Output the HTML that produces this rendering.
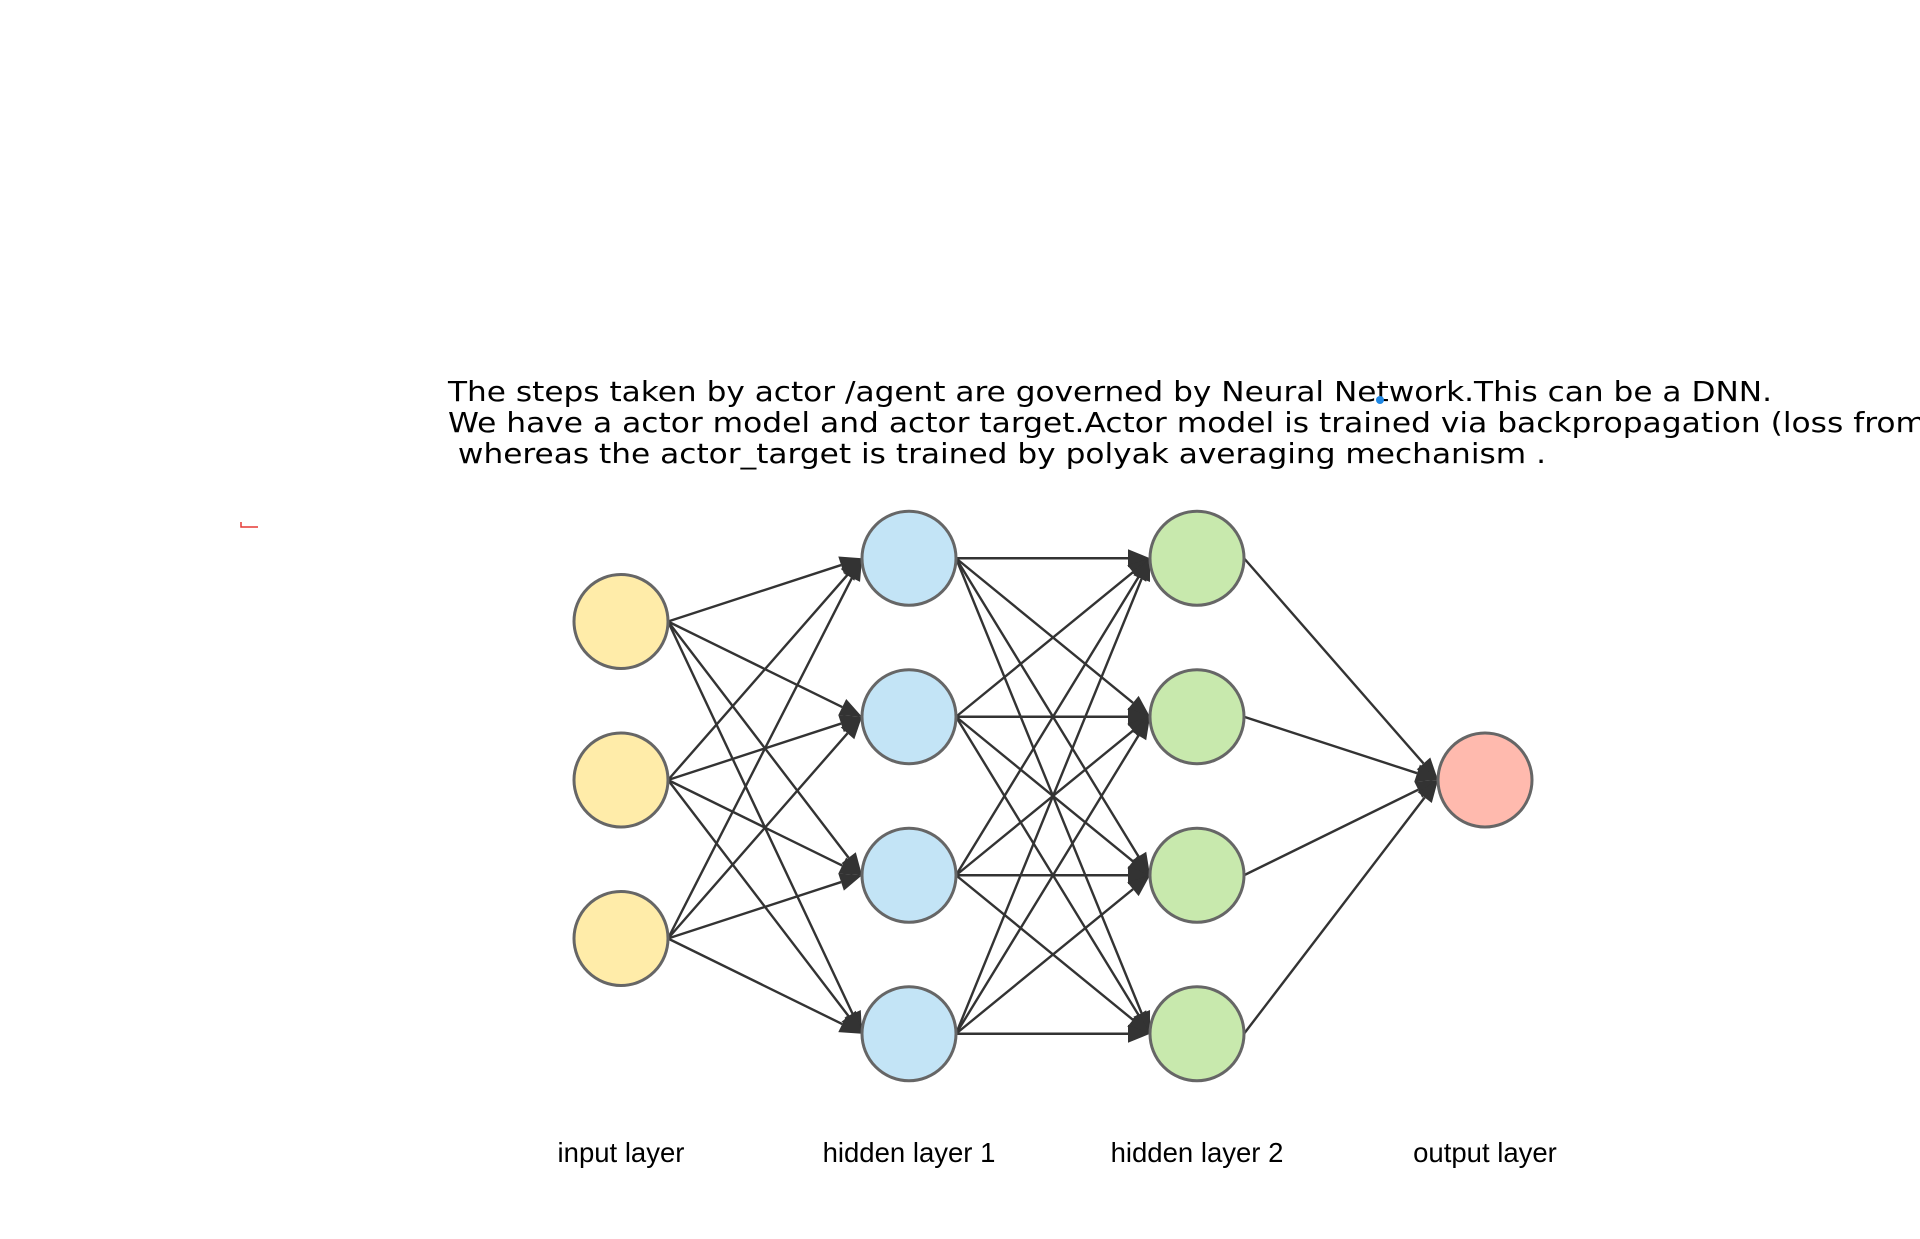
<!DOCTYPE html>
<html><head><meta charset="utf-8"><style>
html,body{margin:0;padding:0;background:#fff;width:1920px;height:1239px;overflow:hidden}
svg{display:block}
</style></head><body>
<svg id="chart" width="1920" height="1239" viewBox="0 0 1920 1239" xmlns="http://www.w3.org/2000/svg">
<g font-family="DejaVu Sans, Liberation Sans, sans-serif" font-size="28" fill="#000">
<text x="448" y="401" textLength="1324" lengthAdjust="spacingAndGlyphs">The steps taken by actor /agent are governed by Neural Network.This can be a DNN.</text>
<text x="448" y="432" textLength="1478" lengthAdjust="spacingAndGlyphs">We have a actor model and actor target.Actor model is trained via backpropagation (loss from</text>
<text x="448" y="463" textLength="1098" lengthAdjust="spacingAndGlyphs" xml:space="preserve"> whereas the actor_target is trained by polyak averaging mechanism .</text>
</g>
<circle cx="1380" cy="400" r="4" fill="#1e88e5"/>
<path d="M241,522 L241,527 L258,527" stroke="#e53935" stroke-width="1.5" fill="none"/>
<g id="edges"></g>
<g id="nodes"></g>
<g id="labels"></g>
</svg>
<script>
const layerNames = ["input layer","hidden layer 1","hidden layer 2","output layer"];
const layerSizes = [3,4,4,1];
const layerColors = ["#ffeca9","#c3e4f6","#c8e9ad","#ffbaae"];
const layerX = [621,909,1197,1485];
const layerCenterY = [780,796,796,780];
const spacing = 158.5;
const R = 47;
const NS = "http://www.w3.org/2000/svg";
const edges = document.getElementById('edges');
const nodes = document.getElementById('nodes');
const labels = document.getElementById('labels');
function nodeY(l,i){return layerCenterY[l] + (i-(layerSizes[l]-1)/2)*spacing;}
for(let l=0;l<layerSizes.length-1;l++){
  for(let i=0;i<layerSizes[l];i++){
    for(let j=0;j<layerSizes[l+1];j++){
      const x1=layerX[l]+R, y1=nodeY(l,i);
      const x2=layerX[l+1]-R, y2=nodeY(l+1,j);
      const dx=x2-x1, dy=y2-y1, len=Math.hypot(dx,dy), ux=dx/len, uy=dy/len;
      const hl=22, hw=9;
      const bx=x2-ux*hl, by=y2-uy*hl;
      const line=document.createElementNS(NS,'line');
      
      
      line.setAttribute('x1',x1);line.setAttribute('y1',y1);
      line.setAttribute('x2',bx);line.setAttribute('y2',by);
      line.setAttribute('stroke','#333');line.setAttribute('stroke-width','2.4');
      edges.appendChild(line);
      const head=document.createElementNS(NS,'polygon');
      
      
      head.setAttribute('points',`${x2},${y2} ${bx-uy*hw},${by+ux*hw} ${bx+uy*hw},${by-ux*hw}`);
      head.setAttribute('fill','#333');
      edges.appendChild(head);
    }
  }
}
for(let l=0;l<layerSizes.length;l++){
  for(let i=0;i<layerSizes[l];i++){
    const c=document.createElementNS(NS,'circle');
    
    
    c.setAttribute('cx',layerX[l]);c.setAttribute('cy',nodeY(l,i));c.setAttribute('r',R);
    c.setAttribute('fill',layerColors[l]);c.setAttribute('stroke','#666');c.setAttribute('stroke-width','3');
    nodes.appendChild(c);
  }
  const t=document.createElementNS(NS,'text');
  
  
  t.setAttribute('x',layerX[l]);t.setAttribute('y',1162);
  t.setAttribute('text-anchor','middle');
  t.setAttribute('font-family','Liberation Sans, sans-serif');t.setAttribute('font-size','27.5');
  t.textContent=layerNames[l];
  labels.appendChild(t);
}
</script>
</body></html>
